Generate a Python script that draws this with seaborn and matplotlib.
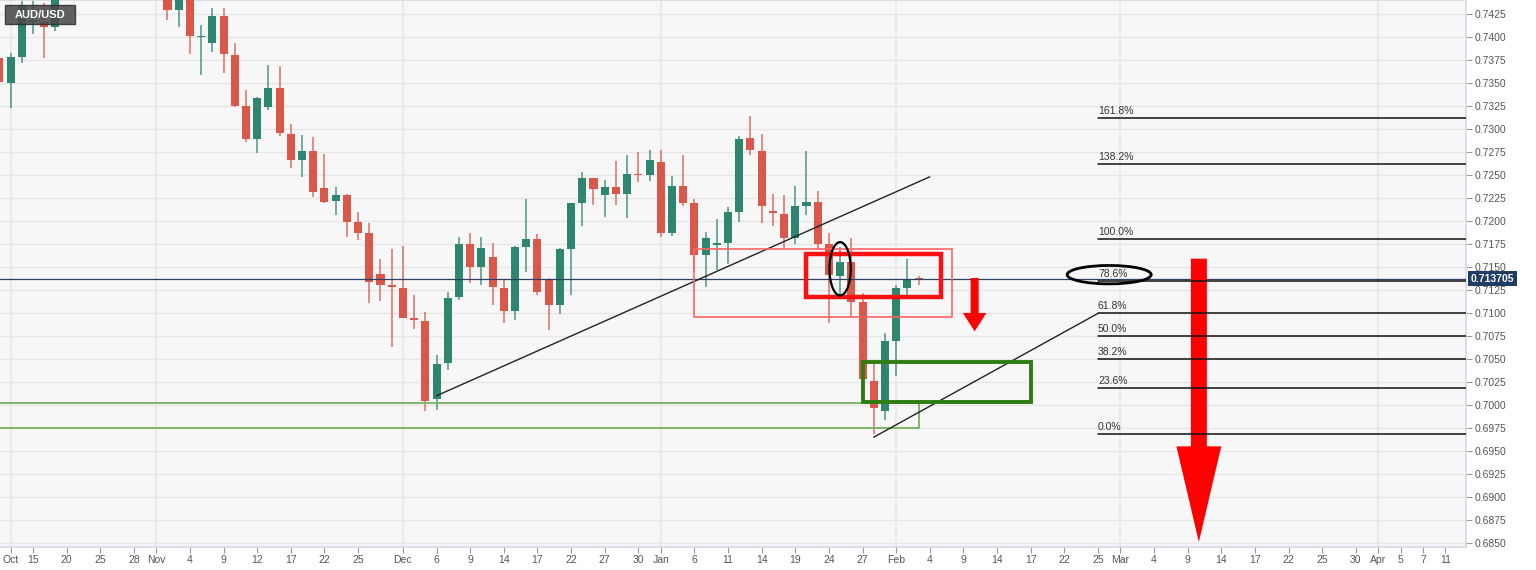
import numpy as np
import pandas as pd
import matplotlib
matplotlib.use("Agg")
import matplotlib.pyplot as plt
import matplotlib.transforms as mtransforms
from matplotlib.patches import Rectangle, Ellipse, Polygon
import seaborn as sns

# AUD/USD daily candles, weekdays from 2021-10-12 to 2022-02-03
opens = [.7377, .7350, .7378, .7416, .7416, .7411, .7451, .7480, .7465, .7475,
         .7490, .7480, .7460, .7545, .7520, .7510, .7429, .7450, .7400, .7394,
         .7423, .7380, .7325, .7289, .7324, .7345, .7295, .7266, .7276, .7236,
         .7222, .7228, .7199, .7187, .7142, .7130, .7127, .7095, .7091, .7007,
         .7046, .7117, .7175, .7150, .7161, .7127, .7102, .7172, .7180, .7137,
         .7109, .7170, .7220, .7247, .7228, .7237, .7229, .7251, .7250, .7264,
         .7187, .7238, .7219, .7163, .7174, .7176, .7210, .7290, .7276, .7211,
         .7208, .7181, .7216, .7221, .7175, .7140, .7155, .7112, .7026, .6993,
         .7069, .7127, .71383]
highs = [.7384, .7383, .7442, .7446, .7437, .7462, .7490, .7495, .7500, .7500,
         .7510, .7500, .7555, .7555, .7530, .7515, .7460, .7455, .7413, .7432,
         .7432, .7393, .7342, .7335, .7370, .7368, .7305, .7293, .7291, .7273,
         .7237, .7229, .7210, .7198, .7159, .7170, .7173, .7120, .7101, .7054,
         .7123, .7183, .7187, .7183, .7176, .7136, .7173, .7224, .7186, .7138,
         .7171, .7220, .7253, .7247, .7245, .7265, .7272, .7275, .7277, .7277,
         .7249, .7272, .7224, .7188, .7202, .7215, .7292, .7314, .7295, .7229,
         .7228, .7238, .7276, .7233, .7187, .7172, .7182, .7122, .7045, .7078,
         .7130, .7159, .7140]
lows = [.7332, .7323, .7372, .7403, .7377, .7407, .7445, .7450, .7455, .7460,
        .7465, .7450, .7450, .7500, .7490, .7418, .7411, .7382, .7359, .7384,
        .7361, .7324, .7286, .7274, .7321, .7292, .7258, .7248, .7226, .7220,
        .7206, .7183, .7179, .7111, .7113, .7063, .7094, .7083, .6993, .6995,
        .7038, .7114, .7133, .7130, .7109, .7089, .7092, .7144, .7120, .7081,
        .7099, .7119, .7195, .7217, .7204, .7217, .7203, .7242, .7243, .7183,
        .7184, .7216, .7144, .7128, .7147, .7153, .7199, .7272, .7198, .7194,
        .7170, .7175, .7207, .7170, .7089, .7119, .7094, .7027, .6968, .6984,
        .7032, .7118, .7130]
closes = [.7351, .7378, .7435, .7418, .7411, .7451, .7480, .7465, .7475, .7490,
          .7480, .7460, .7545, .7520, .7510, .7429, .7450, .7401, .7401, .7423,
          .7381, .7325, .7289, .7334, .7345, .7296, .7266, .7276, .7232, .7221,
          .7228, .7199, .7187, .7134, .7130, .7128, .7095, .7092, .7004, .7045,
          .7116, .7175, .7150, .7171, .7128, .7102, .7172, .7180, .7123, .7109,
          .7170, .7219, .7247, .7235, .7237, .7229, .7251, .7250, .7266, .7187,
          .7238, .7220, .7163, .7181, .7176, .7210, .7289, .7277, .7216, .7209,
          .7181, .7216, .7221, .7175, .7141, .7155, .7112, .7028, .6997, .7069,
          .7127, .7136, .713705]
first_day = "2021-10-12"
last_price = 0.713705

# x axis labels
tick_dates = ["2021-10-13", "2021-10-15", "2021-10-20", "2021-10-25", "2021-10-28",
              "2021-11-01", "2021-11-04", "2021-11-09", "2021-11-12", "2021-11-17",
              "2021-11-22", "2021-11-25", "2021-12-01", "2021-12-06", "2021-12-09",
              "2021-12-14", "2021-12-17", "2021-12-22", "2021-12-27", "2021-12-30",
              "2022-01-03", "2022-01-06", "2022-01-11", "2022-01-14", "2022-01-19",
              "2022-01-24", "2022-01-27", "2022-02-01", "2022-02-04", "2022-02-09",
              "2022-02-14", "2022-02-17", "2022-02-22", "2022-02-25", "2022-03-01",
              "2022-03-04", "2022-03-09", "2022-03-14", "2022-03-17", "2022-03-22",
              "2022-03-25", "2022-03-30", "2022-04-01", "2022-04-05", "2022-04-07",
              "2022-04-11"]
tick_labels = ["Oct", "15", "20", "25", "28", "Nov", "4", "9", "12", "17", "22", "25",
               "Dec", "6", "9", "14", "17", "22", "27", "30", "Jan", "6", "11", "14",
               "19", "24", "27", "Feb", "4", "9", "14", "17", "22", "25", "Mar", "4",
               "9", "14", "17", "22", "25", "30", "Apr", "5", "7", "11"]
price_ticks = np.arange(0.6850, 0.74251, 0.0025)

# fibonacci retracement (swing low -> swing high)
fib_low, fib_high = 0.69685, 0.71805
fib_ratios = [1.618, 1.382, 1.0, 0.786, 0.618, 0.5, 0.382, 0.236, 0.0]
fib_start = "2022-02-25"

# drawings
trend1 = [("2021-12-06", 0.7010), ("2022-02-04", 0.7248)]
trend2_start = ("2022-01-28", 0.6965)
support_zone = ("2022-02-03", 0.6975, 0.7002)
demand_box = ("2022-01-27", "2022-02-17", 0.7003, 0.7047)
range_box = ("2022-01-06", "2022-02-08", 0.7096, 0.7170)
resist_box = ("2022-01-20", "2022-02-07", 0.7117, 0.7164)
circle_candle = ("2022-01-25", 0.7148)
small_arrow = ("2022-02-10", 0.7138, 0.7100, 0.7080)
big_arrow = ("2022-03-10", 0.7159, 0.6955, 0.6851)

sns.set_theme(style="whitegrid", rc={
    "axes.facecolor": "#f7f7f7",
    "axes.edgecolor": "#d3d9e6",
    "grid.color": "#e7e7e7",
    "grid.linewidth": 1.0,
})
plt.rcParams["font.family"] = ["Liberation Sans", "DejaVu Sans"]

axis_days = pd.bdate_range(first_day, "2022-04-29")
def pos(d):
    return axis_days.get_loc(pd.Timestamp(d))

df = pd.DataFrame({"open": opens, "high": highs, "low": lows, "close": closes})
df["date"] = pd.bdate_range(first_day, periods=len(df))
df["x"] = [pos(d) for d in df["date"]]
df["up"] = df["close"] >= df["open"]

green, red = "#2e8670", "#d9584a"

fig = plt.figure(figsize=(15.36, 5.7), dpi=100)
ax = fig.add_axes([0, 23 / 570, 1466 / 1536, 547 / 570])

# month gridlines
for d, lab in zip(tick_dates, tick_labels):
    if not lab.isdigit():
        ax.axvline(pos(d), color="#e7e7e7", lw=1.2, zorder=0)

# candles
for _, r in df.iterrows():
    col = green if r["up"] else red
    ax.vlines(r["x"], r["low"], r["high"], color=col, lw=1.1, alpha=0.85, zorder=2)
    h = max(abs(r["close"] - r["open"]), 0.00012)
    ax.bar(r["x"], h, bottom=min(r["open"], r["close"]), width=0.72,
           color=col, edgecolor="none", zorder=3)

# last price line
ax.axhline(last_price, color="#2c4063", lw=0.9, zorder=4)

# trendlines
ax.plot([pos(trend1[0][0]), pos(trend1[1][0])], [trend1[0][1], trend1[1][1]],
        color="#222222", lw=1, zorder=5)
fib_levels = [fib_low + r * (fib_high - fib_low) for r in fib_ratios]
ax.plot([pos(trend2_start[0]), pos(fib_start)], [trend2_start[1], fib_levels[4]],
        color="#222222", lw=1, zorder=5)

# support lines
ax.plot([0, pos(support_zone[0]), pos(support_zone[0]), 0],
        [support_zone[2], support_zone[2], support_zone[1], support_zone[1]],
        color="#74b35c", lw=1.3, zorder=4)

# boxes
def box(spec, color, lw, z):
    x0, x1, y0, y1 = pos(spec[0]), pos(spec[1]), spec[2], spec[3]
    ax.add_patch(Rectangle((x0, y0), x1 - x0, y1 - y0, fill=False,
                           ec=color, lw=lw, zorder=z))

box(range_box, "#ff6464", 1.2, 5)
box(resist_box, "#ff1010", 3.2, 6)
box(demand_box, "#2f7d12", 2.8, 6)

# ellipse around candle
ax.add_patch(Ellipse((pos(circle_candle[0]), circle_candle[1]), 1.9, 0.0058,
                     fill=False, ec="black", lw=1.6, zorder=7))

# red arrows
def down_arrow(spec, shaft_w, head_w):
    xc = pos(spec[0])
    top, neck, tip = spec[1], spec[2], spec[3]
    verts = [(xc - shaft_w / 2, top), (xc + shaft_w / 2, top), (xc + shaft_w / 2, neck),
             (xc + head_w / 2, neck), (xc, tip), (xc - head_w / 2, neck),
             (xc - shaft_w / 2, neck)]
    ax.add_patch(Polygon(verts, closed=True, fc="#ff0000", ec="none", zorder=6))

down_arrow(small_arrow, 0.72, 2.1)
down_arrow(big_arrow, 1.43, 4.0)

# fibonacci levels
fx = pos(fib_start)
for r, lvl in zip(fib_ratios, fib_levels):
    ax.plot([fx, 140], [lvl, lvl], color="#111111", lw=1.1, zorder=8)
    ax.annotate(f"{r * 100:.1f}%", (fx, lvl), xytext=(0, 1.5), textcoords="offset points",
                ha="left", va="bottom", fontsize=7.5, color="#333333", zorder=9)
ax.add_patch(Ellipse((fx + 1.0, fib_levels[3] + 0.00065), 7.5, 0.0020,
                     fill=False, ec="black", lw=2, zorder=9))

# axes
ax.set_xlim(0.06, 130.83)
ax.set_ylim(0.68456, 0.74402)
ax.set_xticks([pos(d) for d in tick_dates])
ax.set_xticklabels(tick_labels)
ax.grid(axis="x", visible=False)
ax.set_yticks(price_ticks)
ax.set_yticklabels([f"{v:.4f}" for v in price_ticks])
ax.yaxis.tick_right()
ax.tick_params(axis="x", bottom=True, length=4, width=0.8, color="#999999",
               labelsize=7.5, labelcolor="#555555", pad=2)
ax.tick_params(axis="y", right=True, left=False, length=4, width=0.8, color="#999999",
               labelsize=7.5, labelcolor="#555555", pad=2)
ax.spines["left"].set_visible(False)
for s in ["top", "right", "bottom"]:
    ax.spines[s].set_color("#d3d9e6")
    ax.spines[s].set_linewidth(1.2)

# last price tag
trans = mtransforms.blended_transform_factory(ax.transAxes, ax.transData)
ax.text(1.003, last_price, f"{last_price:.6f}", transform=trans, ha="left", va="center",
        fontsize=7.5, fontweight="bold", color="white", clip_on=False, zorder=10,
        bbox=dict(boxstyle="square,pad=0.25", fc="#1e3c64", ec="none"))

# symbol tag
ax.add_patch(Rectangle((5 / 1466, 1 - 24 / 547), 70 / 1466, 19 / 547, transform=ax.transAxes,
                       fc="#4b4b4b", ec="#2f2f2f", lw=1, alpha=0.88, zorder=10))
ax.text(40 / 1466, 1 - 14.5 / 547, "AUD/USD", transform=ax.transAxes, ha="center",
        va="center", fontsize=8, fontweight="bold", color="white", zorder=11)

fig.savefig("out.png", dpi=100, facecolor="white")
